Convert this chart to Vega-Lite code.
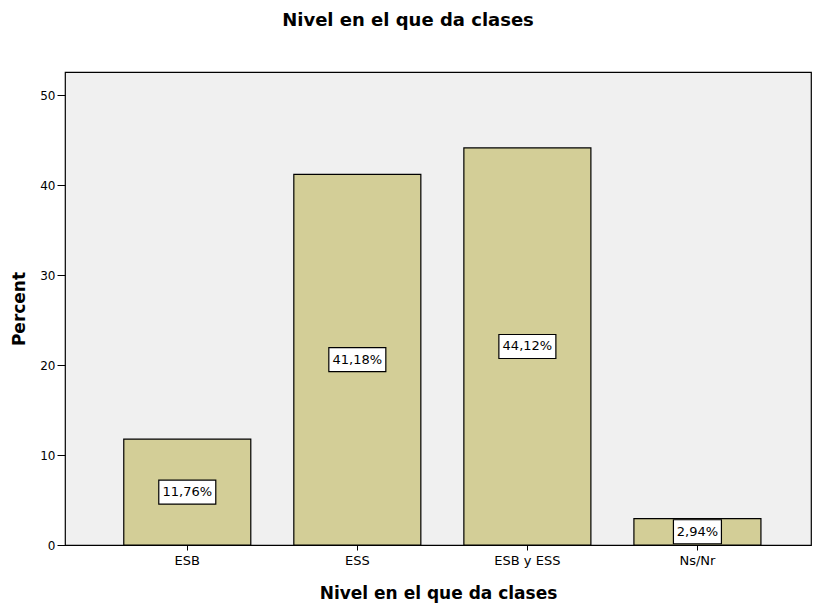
{
  "$schema": "https://vega.github.io/schema/vega-lite/v6.json",
  "width": 746,
  "height": 473,
  "autosize": "none",
  "padding": {"left": 65, "top": 72, "right": 2, "bottom": 66},
  "background": "white",
  "config": {
    "font": "DejaVu Sans",
    "view": {"fill": "#f0f0f0", "stroke": "black", "strokeWidth": 1.2}
  },
  "title": {
    "text": "Nivel en el que da clases",
    "font": "DejaVu Sans",
    "fontSize": 18,
    "fontWeight": "bold",
    "color": "black",
    "anchor": "middle",
    "dx": -30,
    "offset": 42
  },
  "data": {
    "values": [
      {"nivel": "ESB", "percent": 11.76, "label": "11,76%"},
      {"nivel": "ESS", "percent": 41.18, "label": "41,18%"},
      {"nivel": "ESB y ESS", "percent": 44.12, "label": "44,12%"},
      {"nivel": "Ns/Nr", "percent": 2.94, "label": "2,94%"}
    ]
  },
  "transform": [{"calculate": "datum.percent / 2", "as": "mid"}],
  "encoding": {
    "x": {
      "field": "nivel",
      "type": "nominal",
      "sort": null,
      "scale": {"paddingInner": 0.253, "paddingOuter": 0.32, "align": 0.54},
      "axis": {
        "title": "Nivel en el que da clases",
        "titleFontSize": 17,
        "titleFontWeight": "bold",
        "titleColor": "black",
        "titlePadding": 18,
        "labelAngle": 0,
        "labelFontSize": 13,
        "labelColor": "black",
        "labelPadding": 4,
        "tickSize": 5,
        "tickColor": "black",
        "domain": false
      }
    }
  },
  "layer": [
    {
      "mark": {"type": "bar", "fill": "#d3ce97", "stroke": "black", "strokeWidth": 1.2},
      "encoding": {
        "y": {
          "field": "percent",
          "type": "quantitative",
          "scale": {"domain": [0, 52.56], "nice": false},
          "axis": {
            "title": "Percent",
            "titleFontSize": 17,
            "titleFontWeight": "bold",
            "titleColor": "black",
            "titlePadding": 11,
            "values": [0, 10, 20, 30, 40, 50],
            "labelFontSize": 12,
            "labelColor": "black",
            "labelPadding": 2,
            "tickSize": 8,
            "tickColor": "black",
            "grid": false,
            "domain": false
          }
        }
      }
    },
    {
      "mark": {
        "type": "point",
        "filled": true,
        "fill": "white",
        "stroke": "black",
        "strokeWidth": 1.2,
        "opacity": 1,
        "size": 900
      },
      "encoding": {
        "y": {"field": "mid", "type": "quantitative"},
        "shape": {
          "condition": {
            "test": "datum.percent < 10",
            "value": "M-1.6,-0.8L1.6,-0.8L1.6,0.8L-1.6,0.8Z"
          },
          "value": "M-1.9,-0.8L1.9,-0.8L1.9,0.8L-1.9,0.8Z"
        }
      }
    },
    {
      "mark": {"type": "text", "fontSize": 13, "color": "black", "baseline": "middle"},
      "encoding": {
        "y": {"field": "mid", "type": "quantitative"},
        "text": {"field": "label"}
      }
    }
  ]
}
